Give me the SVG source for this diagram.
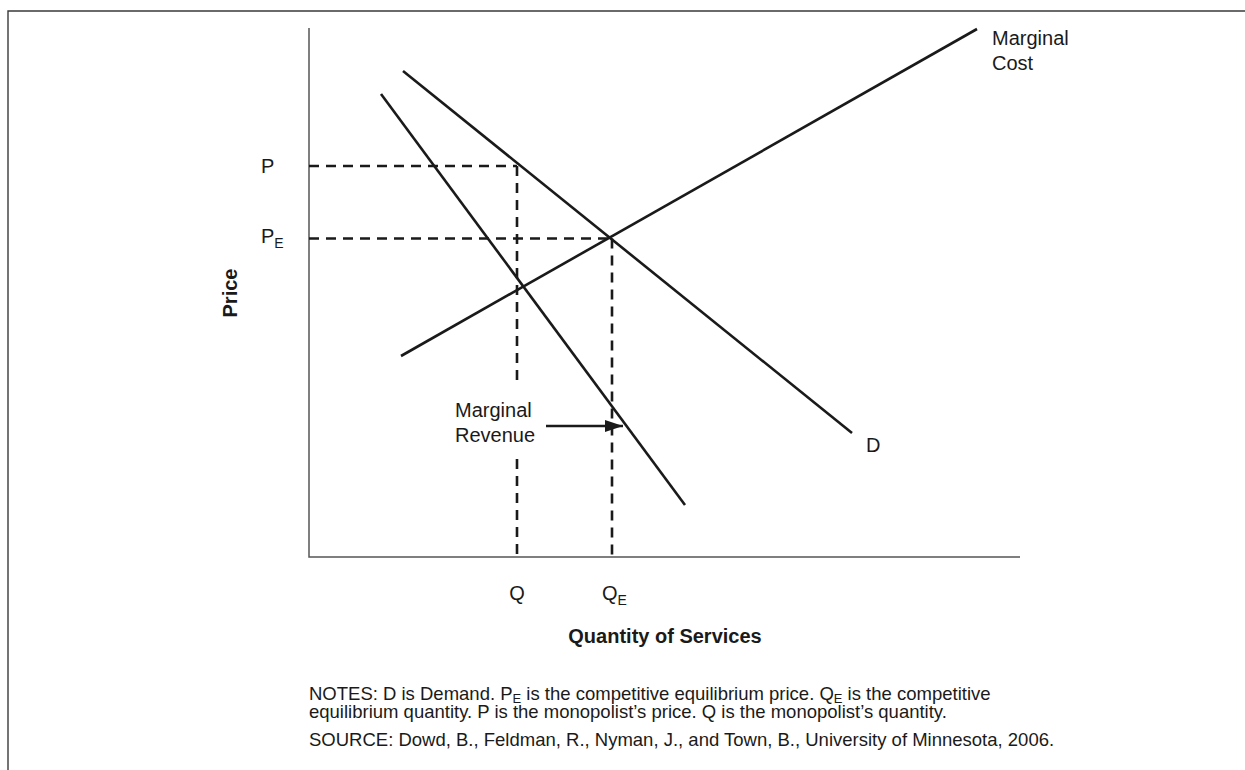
<svg xmlns="http://www.w3.org/2000/svg" width="1245" height="770" viewBox="0 0 1245 770">
<defs>
<style>
.frame{stroke:#3a3a3a;stroke-width:1.4;fill:none}
.axis{stroke:#555;stroke-width:1.5;fill:none}
.curve{stroke:#1a1a1a;stroke-width:2.6;fill:none;stroke-linecap:butt}
.dash{stroke:#1a1a1a;stroke-width:2.6;fill:none;stroke-dasharray:10 7}
text{font-family:"Liberation Sans",Arial,Helvetica,sans-serif;fill:#1a1a1a}
.lbl{font-size:20px}
.sub{font-size:14px}
.bold{font-size:20px;font-weight:bold}
.note{font-size:18.5px}
.nsub{font-size:13px}
</style>
<marker id="arr" markerWidth="20" markerHeight="14" refX="18" refY="6" orient="auto" markerUnits="userSpaceOnUse">
<path d="M0,0 L18,6 L0,12 Z" fill="#1a1a1a"/>
</marker>
</defs>
<rect width="1245" height="770" fill="#fff"/>
<g id="frame">
<path class="frame" d="M8,770 L8,11 L1245,11"/>
</g>
<g id="axes">
<path class="axis" d="M309,28 L309,557 L1020,557"/>
</g>
<g id="connectors">
<line class="curve" x1="403" y1="71" x2="852" y2="433"/>
<line class="curve" x1="381" y1="94" x2="685" y2="505"/>
<line class="curve" x1="401" y1="356" x2="977" y2="29"/>
<line class="dash" x1="309" y1="166" x2="517" y2="166"/>
<line class="dash" x1="309" y1="238.5" x2="611" y2="238.5"/>
<line class="dash" x1="517" y1="166" x2="517" y2="386"/>
<line class="dash" x1="517" y1="459" x2="517" y2="557"/>
<line class="dash" x1="612" y1="238.5" x2="612" y2="557"/>
<line class="curve" x1="546" y1="426" x2="623" y2="426" marker-end="url(#arr)"/>
</g>
<g id="label-P"><text class="lbl" x="261" y="173">P</text></g>
<g id="label-PE"><text class="lbl" x="261" y="243">P<tspan class="sub" dy="5">E</tspan></text></g>
<g id="label-Q"><text class="lbl" x="517" y="600" text-anchor="middle">Q</text></g>
<g id="label-QE"><text class="lbl" x="602" y="600">Q<tspan class="sub" dy="5">E</tspan></text></g>
<g id="label-MC"><text class="lbl" x="992" y="45">Marginal</text><text class="lbl" x="992" y="70">Cost</text></g>
<g id="label-MR"><text class="lbl" x="455" y="417">Marginal</text><text class="lbl" x="455" y="442">Revenue</text></g>
<g id="label-D"><text class="lbl" x="866" y="452">D</text></g>
<g id="label-price"><text class="bold" transform="translate(237,293) rotate(-90)" text-anchor="middle">Price</text></g>
<g id="label-qty"><text class="bold" x="665" y="643" text-anchor="middle">Quantity of Services</text></g>
<g id="notes">
<text class="note" x="309" y="700">NOTES: D is Demand. P<tspan class="nsub" dy="3">E</tspan><tspan dy="-3"> is the competitive equilibrium price. Q</tspan><tspan class="nsub" dy="3">E</tspan><tspan dy="-3"> is the competitive</tspan></text>
<text class="note" x="309" y="718">equilibrium quantity. P is the monopolist’s price. Q is the monopolist’s quantity.</text>
<text class="note" x="309" y="746">SOURCE: Dowd, B., Feldman, R., Nyman, J., and Town, B., University of Minnesota, 2006.</text>
</g>
</svg>
